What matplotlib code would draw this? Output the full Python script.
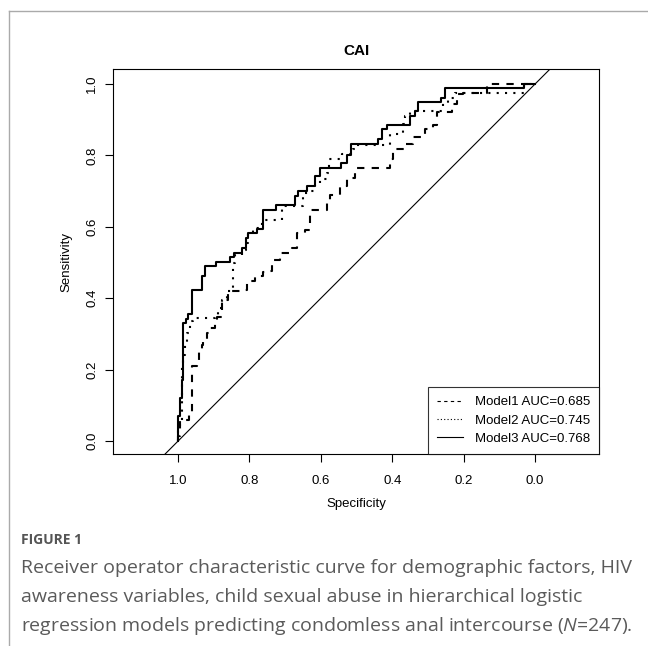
import matplotlib
matplotlib.use("Agg")
import matplotlib.pyplot as plt
from matplotlib.lines import Line2D

plt.rcParams["font.family"] = ["Liberation Sans", "DejaVu Sans"]
plt.rcParams["mathtext.fontset"] = "custom"
plt.rcParams["mathtext.it"] = "Open Sans:italic"
plt.rcParams["mathtext.rm"] = "Open Sans"

# ROC step points (specificity, sensitivity)
spec1 = [1.000, 0.994, 0.989, 0.969, 0.962, 0.948, 0.940, 0.934, 0.929, 0.920, 0.910,
         0.896, 0.890, 0.878, 0.859, 0.826, 0.808, 0.784, 0.761, 0.747, 0.737, 0.714,
         0.681, 0.668, 0.644, 0.630, 0.583, 0.574, 0.546, 0.527, 0.504, 0.406, 0.397,
         0.364, 0.341, 0.308, 0.285, 0.275, 0.233, 0.219, 0.201, 0.135, 0.117, 0.000]
sens1 = [0.000, 0.013, 0.055, 0.060, 0.079, 0.210, 0.220, 0.256, 0.270, 0.284, 0.303,
         0.317, 0.336, 0.348, 0.396, 0.420, 0.424, 0.448, 0.462, 0.473, 0.476, 0.508,
         0.527, 0.541, 0.583, 0.592, 0.646, 0.676, 0.690, 0.714, 0.737, 0.765, 0.789,
         0.818, 0.831, 0.852, 0.873, 0.884, 0.922, 0.943, 0.971, 0.975, 1.000, 1.000]

spec2 = [1.000, 0.994, 0.990, 0.987, 0.980, 0.974, 0.966, 0.957, 0.896, 0.887, 0.878,
         0.864, 0.847, 0.840, 0.822, 0.810, 0.803, 0.789, 0.764, 0.710, 0.649, 0.630,
         0.616, 0.602, 0.583, 0.576, 0.541, 0.509, 0.504, 0.406, 0.369, 0.364, 0.350,
         0.257, 0.244, 0.224, 0.031, 0.000]
sens2 = [0.000, 0.041, 0.060, 0.210, 0.242, 0.270, 0.304, 0.336, 0.345, 0.352, 0.373,
         0.396, 0.420, 0.499, 0.522, 0.536, 0.555, 0.583, 0.597, 0.618, 0.658, 0.695,
         0.700, 0.718, 0.733, 0.751, 0.790, 0.803, 0.817, 0.828, 0.859, 0.887, 0.910,
         0.924, 0.948, 0.962, 0.975, 1.000]

spec3 = [1.000, 0.994, 0.990, 0.985, 0.978, 0.972, 0.960, 0.932, 0.924, 0.894, 0.854,
         0.842, 0.822, 0.810, 0.804, 0.780, 0.762, 0.726, 0.672, 0.663, 0.640, 0.616,
         0.602, 0.543, 0.527, 0.515, 0.439, 0.429, 0.415, 0.350, 0.336, 0.329, 0.264,
         0.252, 0.030, 0.000]
sens3 = [0.000, 0.069, 0.122, 0.172, 0.332, 0.343, 0.357, 0.422, 0.462, 0.490, 0.501,
         0.517, 0.528, 0.542, 0.570, 0.584, 0.595, 0.646, 0.660, 0.686, 0.700, 0.714,
         0.742, 0.765, 0.779, 0.800, 0.832, 0.845, 0.873, 0.885, 0.910, 0.924, 0.949,
         0.961, 0.989, 1.000]

labels = ["Model1 AUC=0.685", "Model2 AUC=0.745", "Model3 AUC=0.768"]
ticks = [1.0, 0.8, 0.6, 0.4, 0.2, 0.0]
caption_lines = ["Receiver operator characteristic curve for demographic factors, HIV",
                 "awareness variables, child sexual abuse in hierarchical logistic",
                 "regression models predicting condomless anal intercourse ($\\mathit{N}$=247)."]

fig = plt.figure(figsize=(6.48, 6.46), dpi=100)
ax = fig.add_axes([113 / 648, 1 - 454 / 646, 486 / 648, 385 / 646])

styles = [(0, (3.5, 3.5)), (0, (1, 3)), "-"]
for sp, se, ls in zip([spec1, spec2, spec3], [sens1, sens2, sens3], styles):
    ax.step(sp, se, where="pre", color="black", lw=1.5, linestyle=ls)

# chance line
ax.axline((1, 0), (0, 1), color="black", lw=0.8)

ax.set_xlim(1.182, -0.179)
ax.set_ylim(-0.036, 1.042)
ax.set_xticks(ticks)
ax.set_xticklabels([f"{t:.1f}" for t in ticks], fontsize=9.5)
ax.set_yticks(ticks)
ax.set_yticklabels([f"{t:.1f}" for t in ticks], fontsize=9.5, rotation=90, va="center")
ax.tick_params(length=6, width=0.8)
ax.tick_params(axis="x", pad=9)
ax.tick_params(axis="y", pad=4.5)
for s in ax.spines.values():
    s.set_linewidth(0.8)

ax.set_xlabel("Specificity", fontsize=9.5, labelpad=8)
ax.set_ylabel("Sensitivity", fontsize=9.5, labelpad=10)
ax.set_title("CAI", fontsize=11, fontweight="bold", pad=10)

handles = [Line2D([], [], color="black", lw=0.8, linestyle=ls) for ls in
           [(0, (3, 3)), (0, (1, 2)), "-"]]
leg = ax.legend(handles, labels, loc="lower right", fontsize=9.5, frameon=True,
                fancybox=False, edgecolor="black", borderaxespad=0, handlelength=2.0,
                handletextpad=0.85, borderpad=0.7, labelspacing=0.45)
leg.get_frame().set_linewidth(0.8)

# page frame and caption
fig.add_artist(Line2D([9 / 648, 1], [1 - 11 / 646, 1 - 11 / 646], color="#aaaaaa", lw=1))
fig.add_artist(Line2D([9 / 648, 9 / 648], [0, 1 - 11 / 646], color="#aaaaaa", lw=1))
fig.text(21 / 648, 1 - 540 / 646, "FIGURE 1", fontsize=10, fontweight="bold",
         color="#555555", family="Open Sans", va="center")
for i, line in enumerate(caption_lines):
    fig.text(21 / 648, 1 - (568 + 29 * i) / 646, line, fontsize=14, color="#5a5a5a",
             family="Open Sans", va="center")

fig.savefig("out.png", dpi=100)
